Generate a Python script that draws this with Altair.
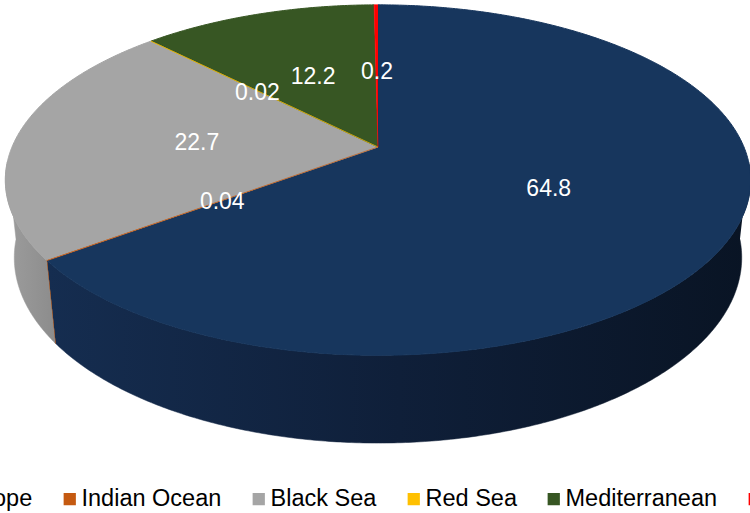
import numpy as np
import pandas as pd
import altair as alt

# Share of traffic by sea region (%)
regions = ["Northern Europe", "Indian Ocean", "Black Sea", "Red Sea", "Mediterranean", "Other"]
shares = [64.8, 0.04, 22.7, 0.02, 12.2, 0.2]
palette = ["#17365D", "#C55A11", "#A5A5A5", "#FFC000", "#375623", "#FF0000"]

# Shading of the curved side wall, left to right, for slices whose wall faces the viewer
wall_shading = {
    "Northern Europe": ["#152D50", "#0F1F39", "#091424"],
    "Indian Ocean": ["#A84C0E"],
    "Black Sea": ["#9D9D9D", "#8C8C8C"],
}

W, H = 750, 513

# Camera looking down on a unit-radius disc of thickness DEPTH
ELEV = np.radians(27.5)
DIST = 4.70
DEPTH = 0.241
FOCAL = 1720.0
PIVOT = (378.0, 147.0)  # where the disc centre lands in the view
LABEL_R = 0.5


def project(theta, r, z):
    """Perspective projection of a point on the disc (theta clockwise from the back)."""
    t = np.radians(theta)
    X = r * np.sin(t)
    Y = r * np.cos(t)
    dy = Y + DIST * np.cos(ELEV)
    dz = z - DIST * np.sin(ELEV)
    depth = dy * np.cos(ELEV) - dz * np.sin(ELEV)
    up = dy * np.sin(ELEV) + dz * np.cos(ELEV)
    return float(X / depth), float(up / depth)


total = sum(shares)
ends = np.cumsum(shares) / total * 360.0
starts = ends - np.array(shares) / total * 360.0

top_rows, wall_rows, label_rows = [], [], []
for name, s, a0, a1 in zip(regions, shares, starts, ends):
    n = max(2, int(np.ceil((a1 - a0) / 0.5)) + 1)
    arc = np.linspace(a0, a1, n)
    pts = [(0.0, 0.0)] + [project(a, 1.0, 0.0) for a in arc]
    for i, (u, w) in enumerate(pts):
        top_rows.append({"region": name, "i": i, "u": u, "w": w, "tiny": s < 1})

    b0, b1 = max(a0, 95.0), min(a1, 265.0)
    if b1 > b0:
        m = max(2, int(np.ceil((b1 - b0) / 0.5)) + 1)
        arc = np.linspace(b0, b1, m)
        ring = [project(a, 1.0, 0.0) for a in arc] + [project(a, 1.0, -DEPTH) for a in arc[::-1]]
        for i, (u, w) in enumerate(ring):
            wall_rows.append({"region": name, "i": i, "u": u, "w": w})

    u, w = project((a0 + a1) / 2.0, LABEL_R, 0.0)
    label_rows.append({"region": name, "share": s, "u": u, "w": w})

tops = pd.DataFrame(top_rows)
walls = pd.DataFrame(wall_rows)
labels = pd.DataFrame(label_rows)

x_scale = alt.Scale(domain=[-PIVOT[0] / FOCAL, (W - PIVOT[0]) / FOCAL], nice=False, zero=False)
y_scale = alt.Scale(domain=[(PIVOT[1] - H) / FOCAL, PIVOT[1] / FOCAL], nice=False, zero=False)
X = alt.X("u:Q", scale=x_scale, axis=None)
Y = alt.Y("w:Q", scale=y_scale, axis=None)
ORDER = alt.Order("i:Q")

color_scale = alt.Scale(domain=regions, range=palette)
legend = alt.Legend(
    title=None,
    orient="none",
    legendX=-168,
    legendY=487,
    direction="horizontal",
    symbolType="square",
    symbolSize=150,
    symbolStrokeWidth=0,
    symbolOffset=3,
    labelFont="Liberation Sans",
    labelFontSize=23.5,
    labelColor="#000000",
    labelOffset=0,
    columnPadding=22,
    labelLimit=0,
    padding=0,
)

layers = []

# side walls
for name, shades in wall_shading.items():
    part = walls[walls["region"] == name]
    if len(shades) == 1:
        paint = shades[0]
        width = 0.8
    else:
        paint = {
            "gradient": "linear",
            "x1": 0, "y1": 0, "x2": 1, "y2": 0,
            "stops": [
                {"offset": k / (len(shades) - 1), "color": c} for k, c in enumerate(shades)
            ],
        }
        width = 0.5
    layers.append(
        alt.Chart(part)
        .mark_line(fill=paint, stroke=paint, strokeWidth=width)
        .encode(x=X, y=Y, order=ORDER)
    )

# top faces: wide slices first, hairline slices on top
for tiny in (False, True):
    layers.append(
        alt.Chart(tops[tops["tiny"] == tiny])
        .mark_line(strokeWidth=0.7 if tiny else 1.0)
        .encode(
            x=X,
            y=Y,
            order=ORDER,
            detail="region:N",
            fill=alt.Fill("region:N", scale=color_scale, legend=legend),
            stroke=alt.Stroke("region:N", scale=color_scale, legend=None),
        )
    )

# value labels
layers.append(
    alt.Chart(labels)
    .mark_text(color="#FFFFFF", font="Liberation Sans", fontSize=23, dy=2)
    .encode(x=X, y=Y, text=alt.Text("share:Q", format="~g"))
)

chart = (
    alt.layer(*layers)
    .properties(width=W, height=H, autosize=alt.AutoSizeParams(type="none"), padding=0)
    .configure_view(stroke=None)
)

chart.save("out.html", embed_options={"renderer": "svg", "actions": False})
